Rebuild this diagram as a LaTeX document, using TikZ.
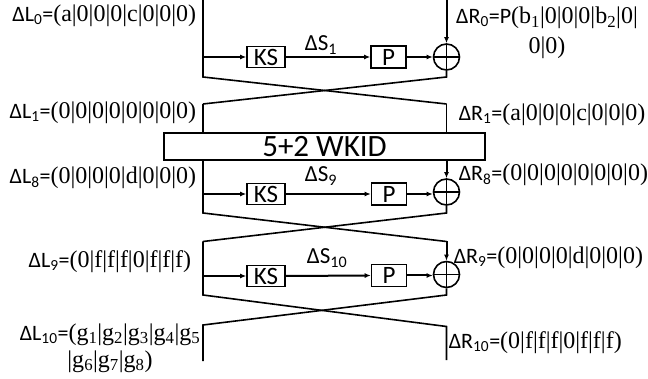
\documentclass[tikz,border=0pt]{standalone}
\usepackage{fontspec}
\setmainfont{Carlito}
\newfontfamily\serif{Liberation Serif}
\usetikzlibrary{arrows.meta}
\newcommand\sv[1]{{\fontsize{24}{26}\serif #1}}
\begin{document}
\begin{tikzpicture}[x=1pt,y=-1pt,line width=1.6pt,
  every node/.style={inner sep=0pt,font=\fontsize{22}{24}\selectfont},
  kbox/.style={draw,minimum width=38pt,minimum height=21pt,font=\fontsize{25}{26}\selectfont},
  pbox/.style={draw,minimum width=35pt,minimum height=22pt,font=\fontsize{25}{26}\selectfont},
  xorc/.style={draw,circle,minimum size=26pt,path picture={
      \draw (path picture bounding box.north) -- (path picture bounding box.south)
            (path picture bounding box.west) -- (path picture bounding box.east);}},
  arr/.style={-{Latex[length=6pt,width=5pt]},line width=2pt},
  dlab/.style={font=\fontsize{23}{26}\selectfont}]
\useasboundingbox (0,0) rectangle (648,379);

% ---------- round 1 ----------
\coordinate (la) at (203,0);
\coordinate (ra) at (446.5,0);
\coordinate (lab) at (203,77);
\coordinate (rab) at (446.5,77);
\coordinate (lb) at (203,104);
\coordinate (rb) at (446.5,104);
\node[kbox] (ks1) at (266,57) {KS};
\node[pbox] (p1) at (388.5,57) {P};
\node[xorc] (x1) at (446.5,57) {};
\node[dlab] (s1) at (321,45) {ΔS\textsubscript{1}};

\draw (la) -- (lab) -- (rb);
\draw[arr] (ks1.west -| la) -- (ks1.west);
\draw[arr] (ks1.east) -- (p1.west);
\draw[arr] (p1.east) -- (x1.west);
\draw[arr] (ra) -- (x1.north);
\draw (x1.south) -- (rab) -- (lb);

% ---------- WKID ----------
\node[draw,minimum width=321pt,minimum height=27pt,font=\fontsize{31}{33}\selectfont] (wk) at (324.5,146.5) {5+2 WKID};
\draw (lb) -- (wk.north -| lb);
\draw (rb) -- (wk.north -| rb);

% ---------- round 9 ----------
\coordinate (lc) at (203,213);
\coordinate (rc) at (446.5,213);
\coordinate (ld) at (203,241.5);
\coordinate (rd) at (446.5,241.5);
\node[kbox] (ks9) at (266,194) {KS};
\node[pbox] (p9) at (389,194) {P};
\node[xorc] (x9) at (446.5,192) {};
\node[dlab] (s9) at (321,176) {ΔS\textsubscript{9}};
\draw (wk.south -| lc) -- (lc) -- (rd);
\draw[arr] (ks9.west -| lc) -- (ks9.west);
\draw[arr] (ks9.east) -- (p9.west);
\draw[arr] (p9.east) -- (p9.east -| x9.west);
\draw[arr] (wk.south -| rc) -- (x9.north);
\draw (x9.south) -- (rc) -- (ld);

% ---------- round 10 ----------
\coordinate (le) at (203,295);
\coordinate (re) at (446.5,295);
\coordinate (lf) at (203,325);
\coordinate (rf) at (446.5,326.5);
\coordinate (lg) at (203,361);
\coordinate (rg) at (446.5,360);
\node[kbox] (ks10) at (266,276) {KS};
\node[pbox] (p10) at (389,275.5) {P};
\node[xorc] (x10) at (446.5,274.5) {};
\node[dlab] (s10) at (327,258) {ΔS\textsubscript{10}};
\draw (ld) -- (le) -- (rf) -- (rg);
\draw[arr] (ks10.west -| le) -- (ks10.west);
\draw[arr] (ks10.east) -- (p10.west);
\draw[arr] (p10.east) -- (p10.east -| x10.west);
\draw[arr] (rd) -- (x10.north);
\draw (x10.south) -- (re) -- (lf) -- (lg);

% ---------- labels ----------
\node[anchor=east] (tl0) at (197,16) {ΔL\textsubscript{0}=\sv{(a|0|0|0|c|0|0|0)}};
\node[align=center] (tr0) at (547,33) {ΔR\textsubscript{0}=P\sv{(b\textsubscript{1}|0|0|0|b\textsubscript{2}|0|}\\[6pt]\sv{0|0)}};
\node[anchor=east] (tl1) at (197,113) {ΔL\textsubscript{1}=\sv{(0|0|0|0|0|0|0|0)}};
\node[anchor=west] (tr1) at (458,115) {ΔR\textsubscript{1}=\sv{(a|0|0|0|c|0|0|0)}};
\node[anchor=east] (tl8) at (197,178) {ΔL\textsubscript{8}=\sv{(0|0|0|0|d|0|0|0)}};
\node[anchor=west] (tr8) at (458,175) {ΔR\textsubscript{8}=\sv{(0|0|0|0|0|0|0|0)}};
\node[anchor=east] (tl9) at (192,262) {ΔL\textsubscript{9}=\sv{(0|f|f|f|0|f|f|f)}};
\node[anchor=west] (tr9) at (453,258) {ΔR\textsubscript{9}=\sv{(0|0|0|0|d|0|0|0)}};
\node[align=center] (tl10) at (110,348) {ΔL\textsubscript{10}=\sv{(g\textsubscript{1}|g\textsubscript{2}|g\textsubscript{3}|g\textsubscript{4}|g\textsubscript{5}}\\[3pt]\sv{|g\textsubscript{6}|g\textsubscript{7}|g\textsubscript{8})}};
\node[anchor=west] (tr10) at (448,343) {ΔR\textsubscript{10}=\sv{(0|f|f|f|0|f|f|f)}};
\end{tikzpicture}
\end{document}
